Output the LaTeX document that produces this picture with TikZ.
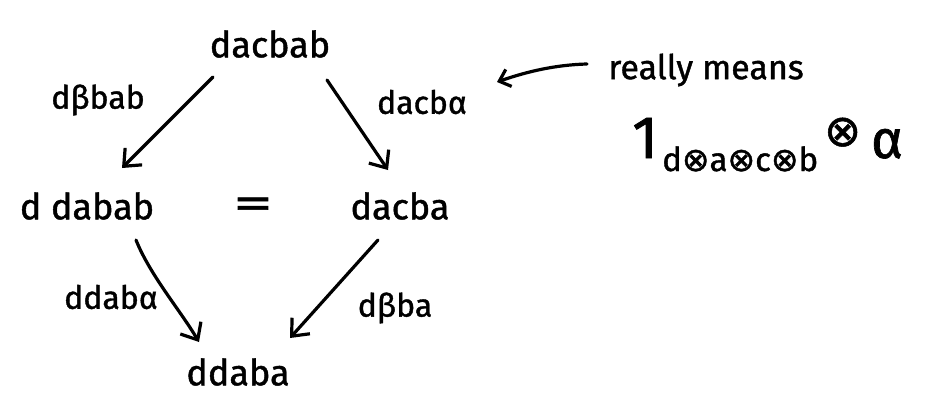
\documentclass[tikz,border=0pt]{standalone}
\usepackage{fontspec}
\usepackage{graphicx}
\setmainfont{Fira Sans}[FakeBold=1.2]
\newfontfamily\symfont{DejaVu Sans}[FakeBold=1.2]
\usetikzlibrary{arrows.meta}
\begin{document}
\begin{tikzpicture}[x=1pt,y=-1pt,
  obj/.style={font=\fontsize{36}{40}\selectfont, inner sep=0pt},
  lbl/.style={font=\fontsize{32}{36}\selectfont, inner sep=0pt},
  mor/.style={line width=3.2pt, line cap=round, -{Straight Barb[length=14pt,width=24pt,line width=3.2pt]}},
  note/.style={line width=3.2pt, line cap=round}]
\useasboundingbox (0,0) rectangle (931,402);
% objects of the square
\node[obj] (top)   at (270,44)  {dacbab};
\node[obj] (left)  at (87,206)  {d dabab};
\node[obj] (right) at (400,206) {dacba};
\node[obj] (bot)   at (238,372) {ddaba};
\node[obj, font=\fontsize{44}{48}\selectfont] (eq) at (253,208) {\scalebox{1.8}[1]{=}};
% morphisms
\coordinate (tl0) at (213,77);  \coordinate (tl1) at (122,168);
\coordinate (tr0) at (327,80);  \coordinate (tr1) at (388,170);
\coordinate (bl0) at (136,240); \coordinate (bl1) at (199,342);
\coordinate (br0) at (378,240); \coordinate (br1) at (290,338);
\draw[mor] (tl0) -- (tl1);
\draw[mor] (tr0) -- (tr1);
\draw[mor] (bl0) .. controls (150,275) and (180,310) .. (bl1);
\draw[mor] (br0) -- (br1);
\node[lbl] (lt) at (98,100)  {dβbab};
\node[lbl] (lr) at (422,102) {dacbα};
\node[lbl] (lb) at (111,297) {ddabα};
\node[lbl] (lbr) at (395,308) {dβba};
% side remark
\node[lbl, font=\fontsize{34}{38}\selectfont] (rm) at (706,70) {really means};
\coordinate (ra0) at (587,64);
\coordinate (ra1) at (497,82);
\draw[note, -{Straight Barb[length=10pt,width=18pt,line width=3.2pt]}] (ra0) .. controls (550,65) and (520,74) .. (ra1);
\node[inner sep=0pt, anchor=base west] (expr) at (632,158)
  {\fontsize{60}{62}\selectfont 1\hspace{4pt}\raisebox{-13pt}{\fontsize{33}{35}\selectfont d{\symfont ⊗}a{\symfont ⊗}c{\symfont ⊗}b}\hspace{6pt}\raisebox{12pt}{\fontsize{44}{46}\symfont ⊗}\hspace{10pt}\fontsize{54}{56}\selectfont α};
\end{tikzpicture}
\end{document}
